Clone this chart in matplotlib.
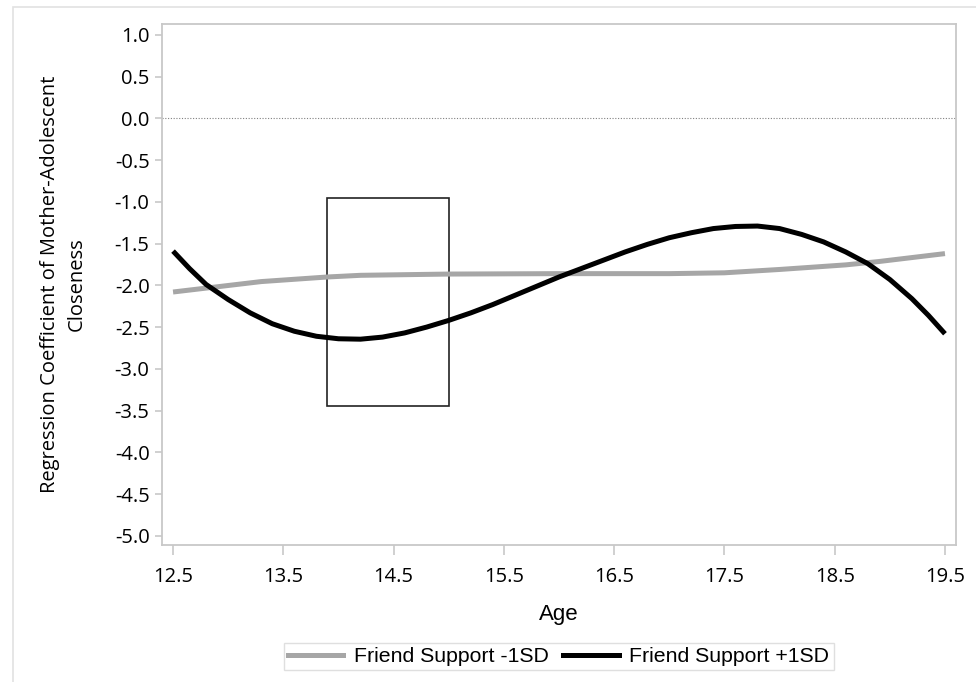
import matplotlib.pyplot as plt
from matplotlib.patches import Rectangle
from matplotlib.lines import Line2D

# Regression coefficient of mother-adolescent closeness by age
age_low = [12.5, 13.3, 13.9, 14.2, 15.0, 16.0, 17.0, 17.5, 18.0, 18.6, 18.9, 19.5]
coef_low = [-2.08, -1.955, -1.90, -1.88, -1.865, -1.86, -1.86, -1.85, -1.81, -1.755, -1.715, -1.62]

age_high = [12.5, 12.65, 12.8, 13.0, 13.2, 13.4, 13.6, 13.8, 14.0, 14.2, 14.4, 14.6, 14.8,
            15.0, 15.2, 15.4, 15.6, 15.8, 16.0, 16.2, 16.4, 16.6, 16.8, 17.0, 17.2, 17.4,
            17.6, 17.8, 18.0, 18.2, 18.4, 18.6, 18.8, 19.0, 19.2, 19.35, 19.5]
coef_high = [-1.59, -1.80, -1.99, -2.17, -2.33, -2.46, -2.55, -2.61, -2.64, -2.645, -2.62, -2.57, -2.50,
             -2.42, -2.33, -2.23, -2.12, -2.01, -1.90, -1.80, -1.70, -1.60, -1.51, -1.43, -1.37, -1.32,
             -1.295, -1.29, -1.32, -1.39, -1.48, -1.60, -1.74, -1.93, -2.16, -2.36, -2.58]

# highlighted age window
win_x0, win_x1 = 13.9, 15.0
win_y0, win_y1 = -3.45, -0.95

xticks = [12.5, 13.5, 14.5, 15.5, 16.5, 17.5, 18.5, 19.5]
yticks = [1.0, 0.5, 0.0, -0.5, -1.0, -1.5, -2.0, -2.5, -3.0, -3.5, -4.0, -4.5, -5.0]

spine_col = '#c8c8c8'

fig = plt.figure(figsize=(9.76, 6.82), dpi=100)
ax = fig.add_axes([0.166, 0.2009, 0.8135, 0.7639])

# outer frame
fig.patches.append(Rectangle((13 / 976, -0.1), 1.2, 1 - 7 / 682 + 0.1, transform=fig.transFigure,
                             fill=False, edgecolor='#e2e2e2', linewidth=1.2))

ax.axhline(0, color='#808080', linestyle=(0, (1, 1.5)), linewidth=0.8)
ax.plot(age_low, coef_low, color='#a6a6a6', linewidth=3.6, solid_capstyle='butt')
ax.plot(age_high, coef_high, color='black', linewidth=3.6, solid_capstyle='butt',
        solid_joinstyle='round')
ax.add_patch(Rectangle((win_x0, win_y1), win_x1 - win_x0, win_y0 - win_y1,
                       fill=False, edgecolor='#222222', linewidth=1.2))

ax.set_xlim(12.4, 19.6)
ax.set_ylim(-5.11, 1.13)
ax.set_xticks(xticks)
ax.set_xticklabels([f'{t:.1f}' for t in xticks], family='Open Sans', fontsize=14.5)
ax.set_yticks(yticks)
ax.set_yticklabels([f'{t:.1f}' for t in yticks], family='Open Sans', fontsize=14.5)
ax.tick_params(axis='x', length=7, color=spine_col, width=1.2, pad=9)
ax.tick_params(axis='y', length=5, color=spine_col, width=1.2, pad=4)
for s in ax.spines.values():
    s.set_color(spine_col)
    s.set_linewidth(1.3)

ax.set_xlabel('Age', family='Liberation Sans', fontsize=16, labelpad=12)
ax.set_ylabel('Regression Coefficient of Mother-Adolescent\nCloseness', family='Open Sans',
              fontsize=14.5, labelpad=20, linespacing=1.45)

handles = [Line2D([0], [0], color='#a6a6a6', linewidth=3.6),
           Line2D([0], [0], color='black', linewidth=3.6)]
leg = fig.legend(handles, ['Friend Support -1SD', 'Friend Support +1SD'], loc='center',
                 bbox_to_anchor=(558.5 / 976, 1 - 656.5 / 682), ncol=2, frameon=True, fancybox=False,
                 prop={'family': 'Liberation Sans', 'size': 15.3}, handlelength=2.6,
                 handletextpad=0.5, columnspacing=0.7, borderpad=0.2, borderaxespad=0)
leg.get_frame().set_edgecolor('#d8d8d8')
leg.get_frame().set_linewidth(1.0)

fig.savefig('out.png', dpi=100)
